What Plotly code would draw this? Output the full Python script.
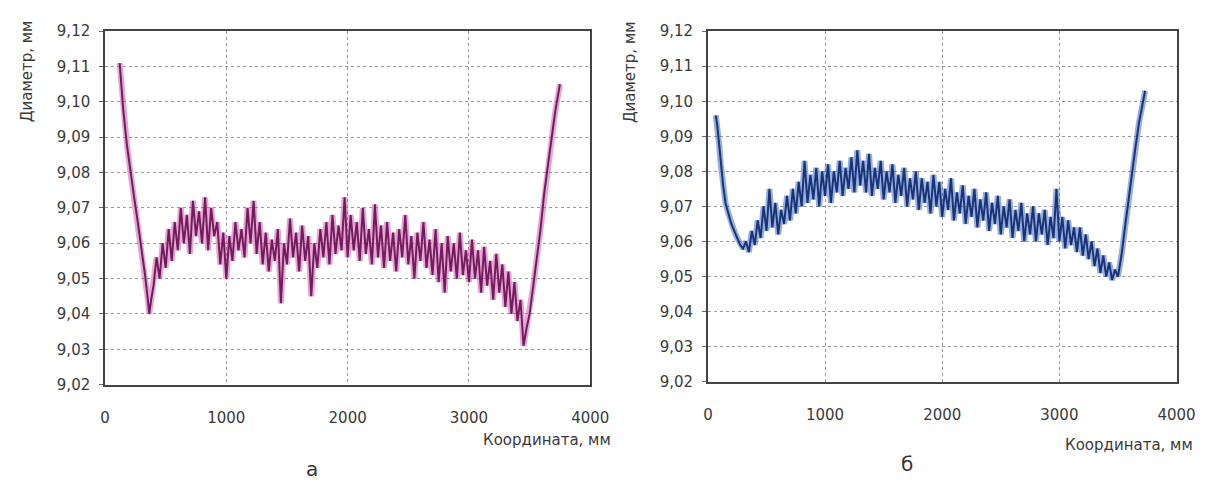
import plotly.graph_objects as go

# ---- Panel "а" (magenta) ----
x_a = [121, 150, 180, 210, 240, 270, 300, 330, 350, 365, 380,
       400, 425, 450, 475, 500, 525, 550, 575,
       600, 625, 650, 675, 700, 725, 750, 775,
       800, 825, 850, 875, 900, 925, 950, 975,
       1000, 1025, 1050, 1075, 1100, 1125, 1150, 1175,
       1200, 1225, 1250, 1275, 1300, 1325, 1350, 1375,
       1400, 1425, 1450, 1475, 1500, 1525, 1550, 1575,
       1600, 1625, 1650, 1675, 1700, 1725, 1750, 1775,
       1800, 1825, 1850, 1875, 1900, 1925, 1950, 1975,
       2000, 2025, 2050, 2075, 2100, 2125, 2150, 2175,
       2200, 2225, 2250, 2275, 2300, 2325, 2350, 2375,
       2400, 2425, 2450, 2475, 2500, 2525, 2550, 2575,
       2600, 2625, 2650, 2675, 2700, 2725, 2750, 2775,
       2800, 2825, 2850, 2875, 2900, 2925, 2950, 2975,
       3000, 3025, 3050, 3075, 3100, 3125, 3150, 3175,
       3200, 3225, 3250, 3275, 3300, 3325, 3350, 3375,
       3400, 3425, 3450, 3475,
       3500, 3530, 3560, 3590, 3620, 3650, 3680, 3710, 3750]
y_a = [9.111, 9.098, 9.088, 9.080, 9.073, 9.066, 9.059, 9.051, 9.045, 9.040, 9.044,
       9.048, 9.056, 9.050, 9.060, 9.053, 9.064, 9.055, 9.066,
       9.058, 9.070, 9.060, 9.068, 9.057, 9.072, 9.062, 9.069,
       9.060, 9.073, 9.058, 9.070, 9.062, 9.066, 9.054, 9.063,
       9.050, 9.062, 9.055, 9.066, 9.058, 9.064, 9.056, 9.070,
       9.060, 9.072, 9.057, 9.066, 9.054, 9.063, 9.052, 9.061,
       9.055, 9.064, 9.043, 9.060, 9.054, 9.067, 9.056, 9.063,
       9.052, 9.065, 9.055, 9.062, 9.045, 9.060, 9.053, 9.064,
       9.056, 9.066, 9.054, 9.068, 9.057, 9.065, 9.058, 9.073,
       9.056, 9.068, 9.058, 9.066, 9.055, 9.070, 9.057, 9.064,
       9.054, 9.071, 9.056, 9.065, 9.053, 9.066, 9.055, 9.063,
       9.052, 9.064, 9.056, 9.068, 9.054, 9.062, 9.050, 9.063,
       9.055, 9.066, 9.053, 9.061, 9.051, 9.064, 9.049, 9.060,
       9.046, 9.062, 9.052, 9.060, 9.050, 9.063, 9.051, 9.058,
       9.049, 9.061, 9.050, 9.058, 9.046, 9.059, 9.048, 9.055,
       9.044, 9.057, 9.046, 9.054, 9.042, 9.052, 9.040, 9.049,
       9.038, 9.044, 9.031, 9.036,
       9.040, 9.048, 9.056, 9.064, 9.074, 9.082, 9.090, 9.097, 9.105]

# ---- Panel "б" (blue) ----
x_b = [67, 80, 95, 110, 130, 150, 175, 200, 225, 250, 275, 300, 325,
       350, 375, 400, 425, 450, 475, 500, 525,
       550, 575, 600, 625, 650, 675, 700, 725,
       750, 775, 800, 825, 850, 875, 900, 925,
       950, 975, 1000, 1025, 1050, 1075, 1100, 1125,
       1150, 1175, 1200, 1225, 1250, 1275, 1300, 1325,
       1350, 1375, 1400, 1425, 1450, 1475, 1500, 1525,
       1550, 1575, 1600, 1625, 1650, 1675, 1700, 1725,
       1750, 1775, 1800, 1825, 1850, 1875, 1900, 1925,
       1950, 1975, 2000, 2025, 2050, 2075, 2100, 2125,
       2150, 2175, 2200, 2225, 2250, 2275, 2300, 2325,
       2350, 2375, 2400, 2425, 2450, 2475, 2500, 2525,
       2550, 2575, 2600, 2625, 2650, 2675, 2700, 2725,
       2750, 2775, 2800, 2825, 2850, 2875, 2900, 2925,
       2950, 2975, 3000, 3025, 3050, 3075, 3100, 3125,
       3150, 3175, 3200, 3225, 3250, 3275, 3300, 3325,
       3350, 3375, 3400, 3425, 3450, 3475,
       3500, 3530, 3560, 3590, 3620, 3650, 3680, 3710, 3732]
y_b = [9.096, 9.093, 9.088, 9.082, 9.076, 9.071, 9.068, 9.065, 9.063, 9.061, 9.059, 9.058, 9.060,
       9.057, 9.063, 9.059, 9.066, 9.061, 9.070, 9.063, 9.075,
       9.064, 9.071, 9.062, 9.069, 9.065, 9.073, 9.066, 9.075,
       9.068, 9.077, 9.070, 9.083, 9.071, 9.079, 9.072, 9.081,
       9.070, 9.080, 9.073, 9.082, 9.071, 9.080, 9.074, 9.083,
       9.073, 9.081, 9.075, 9.084, 9.074, 9.086, 9.076, 9.083,
       9.074, 9.085, 9.073, 9.081, 9.075, 9.083, 9.072, 9.080,
       9.074, 9.082, 9.071, 9.079, 9.073, 9.081, 9.070, 9.078,
       9.072, 9.080, 9.069, 9.078, 9.071, 9.077, 9.068, 9.079,
       9.070, 9.077, 9.067, 9.075, 9.069, 9.078, 9.066, 9.074,
       9.068, 9.076, 9.065, 9.073, 9.067, 9.075, 9.064, 9.072,
       9.066, 9.074, 9.063, 9.071, 9.065, 9.073, 9.062, 9.070,
       9.064, 9.072, 9.061, 9.069, 9.063, 9.071, 9.060, 9.068,
       9.062, 9.070, 9.060, 9.068, 9.062, 9.069, 9.059, 9.067,
       9.061, 9.075, 9.060, 9.067, 9.058, 9.066, 9.059, 9.064,
       9.057, 9.064, 9.056, 9.062, 9.055, 9.060, 9.053, 9.058,
       9.051, 9.056, 9.050, 9.054, 9.049, 9.052,
       9.050, 9.056, 9.064, 9.072, 9.080, 9.087, 9.094, 9.099, 9.103]

x_ticks = [0, 1000, 2000, 3000, 4000]
y_ticks = [9.02, 9.03, 9.04, 9.05, 9.06, 9.07, 9.08, 9.09, 9.10, 9.11, 9.12]
y_title = "Диаметр, мм"
x_title = "Координата, мм"
panel_labels = ["а", "б"]

W, H = 1222, 488
FONT = "DejaVu Sans"
TXT = "#3a3a3a"

fig = go.Figure()
# halo + core for panel a
fig.add_trace(go.Scatter(x=x_a, y=y_a, mode="lines", xaxis="x", yaxis="y",
                         line=dict(color="rgba(200,60,165,0.45)", width=6), hoverinfo="skip"))
fig.add_trace(go.Scatter(x=x_a, y=y_a, mode="lines", xaxis="x", yaxis="y",
                         line=dict(color="#731c5c", width=2)))
# halo + core for panel b
fig.add_trace(go.Scatter(x=x_b, y=y_b, mode="lines", xaxis="x2", yaxis="y2",
                         line=dict(color="rgba(50,95,195,0.5)", width=6), hoverinfo="skip"))
fig.add_trace(go.Scatter(x=x_b, y=y_b, mode="lines", xaxis="x2", yaxis="y2",
                         line=dict(color="#1a3375", width=2)))

def xax(domain, anchor):
    return dict(domain=domain, anchor=anchor, range=[0, 4000], tickvals=x_ticks,
                tickformat="d", showgrid=True, gridcolor="#9a9a9a", griddash="dot",
                gridwidth=1, showline=True, linecolor="#444", linewidth=1.5, mirror=True,
                ticks="", ticklabelstandoff=19, zeroline=False,
                tickfont=dict(family=FONT, size=15, color=TXT))

def yax(domain, anchor):
    return dict(domain=domain, anchor=anchor, range=[9.02, 9.12], tickvals=y_ticks,
                tickformat=".2f", showgrid=True, gridcolor="#9a9a9a", griddash="dot",
                gridwidth=1, showline=True, linecolor="#444", linewidth=1.5, mirror=True,
                ticks="outside", ticklen=4, tickcolor="#666", zeroline=False,
                ticklabelstandoff=6,
                tickfont=dict(family=FONT, size=15, color=TXT))

fig.update_layout(
    width=W, height=H, margin=dict(l=0, r=0, t=0, b=0),
    paper_bgcolor="white", plot_bgcolor="white", showlegend=False,
    separators=",.",
    xaxis=xax([102 / W, 597 / W], "y"),
    yaxis=yax([1 - 390 / H, 1 - 23 / H], "x"),
    xaxis2=xax([717 / W, 1195 / W], "y2"),
    yaxis2=yax([1 - 387 / H, 1 - 23 / H], "x2"),
)

annots = []
for xp in (22, 637):
    annots.append(dict(x=xp / W, y=1 - 10 / H, xref="paper", yref="paper", text=y_title,
                       textangle=-90, showarrow=False, xanchor="center", yanchor="top",
                       font=dict(family=FONT, size=15, color=TXT)))
for xp, yp in ((620, 447), (1214, 453)):
    annots.append(dict(x=xp / W, y=1 - yp / H, xref="paper", yref="paper", text=x_title,
                       showarrow=False, xanchor="right", yanchor="middle",
                       font=dict(family=FONT, size=15, color=TXT)))
for lab, xp, yp in zip(panel_labels, (313, 920), (478, 472)):
    annots.append(dict(x=xp / W, y=1 - yp / H, xref="paper", yref="paper", text=lab,
                       showarrow=False, xanchor="center", yanchor="middle",
                       font=dict(family=FONT, size=20, color="#333")))
fig.update_layout(annotations=annots)

fig.write_html("out.html")
